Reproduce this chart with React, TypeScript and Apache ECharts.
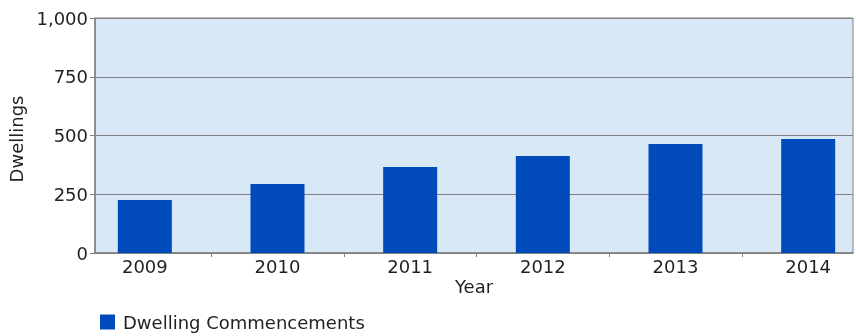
import React, { useEffect, useRef } from "react";
import * as echarts from "echarts";

const years = ["2009", "2010", "2011", "2012", "2013", "2014"];
const commencements = [226, 294, 366, 413, 464, 485];
const yTicks = { min: 0, max: 1000, interval: 250 };
const seriesName = "Dwelling Commencements";
const yAxisTitle = "Dwellings";
const xAxisTitle = "Year";

const FONT = "DejaVu Sans";
const TEXT = "#231F20";
const GRAY = "#808080";

export default function App() {
  const ref = useRef<HTMLDivElement>(null);
  useEffect(() => {
    if (!ref.current) return;
    const chart = echarts.init(ref.current, null, { renderer: "svg" });
    chart.setOption({
      animation: false,
      textStyle: { fontFamily: FONT, color: TEXT },
      legend: {
        left: 95,
        top: 308,
        icon: "rect",
        itemWidth: 15,
        itemHeight: 15,
        data: [seriesName],
        textStyle: { fontFamily: FONT, fontSize: 18, color: TEXT, padding: [0, 0, 0, 3] },
      },
      grid: [
        {
          left: 95,
          right: 3,
          top: 18,
          bottom: 83,
          show: true,
          backgroundColor: "#D9E8F7",
          borderColor: GRAY,
          borderWidth: 1,
          outerBoundsMode: "none",
          containLabel: false,
        },
        {
          left: 78.5,
          width: 796,
          top: 18,
          bottom: 83,
          outerBoundsMode: "none",
          containLabel: false,
        },
      ],
      xAxis: [
        {
          gridIndex: 0,
          type: "category",
          data: [""],
          axisLine: { show: true, lineStyle: { color: GRAY, width: 1.5 } },
          axisTick: { show: false },
          axisLabel: { show: false },
          splitLine: { show: false },
          name: xAxisTitle,
          nameLocation: "middle",
          nameGap: 24,
          nameTextStyle: { fontFamily: FONT, fontSize: 18, color: TEXT },
        },
        {
          gridIndex: 1,
          type: "category",
          data: years,
          axisLine: { show: false },
          axisTick: {
            show: true,
            length: 4,
            lineStyle: { color: GRAY, width: 1 },
            interval: (index: number) => index !== 0,
          },
          axisLabel: { fontFamily: FONT, fontSize: 18, color: TEXT, margin: 4, interval: 0 },
          splitLine: { show: false },
        },
      ],
      yAxis: [
        {
          gridIndex: 0,
          type: "value",
          min: yTicks.min,
          max: yTicks.max,
          interval: yTicks.interval,
          axisLine: { show: true, lineStyle: { color: GRAY, width: 1.5 } },
          axisTick: { show: true, length: 5, lineStyle: { color: GRAY } },
          axisLabel: {
            fontFamily: FONT,
            fontSize: 18,
            color: TEXT,
            margin: 7,
            formatter: (v: number) => v.toLocaleString("en-US"),
          },
          splitLine: { show: true, lineStyle: { color: GRAY, width: 1 } },
          name: yAxisTitle,
          nameLocation: "middle",
          nameGap: 62,
          nameTextStyle: { fontFamily: FONT, fontSize: 18, color: TEXT, padding: [0, 7, 0, 0] },
        },
        {
          gridIndex: 1,
          type: "value",
          min: yTicks.min,
          max: yTicks.max,
          interval: yTicks.interval,
          show: false,
        },
      ],
      series: [
        {
          name: seriesName,
          type: "bar",
          xAxisIndex: 1,
          yAxisIndex: 1,
          data: commencements,
          barWidth: 54,
          itemStyle: { color: "#004BB9" },
        },
      ],
    });
    return () => chart.dispose();
  }, []);
  return (
    <div
      ref={ref}
      style={{ position: "fixed", left: 0, top: 0, width: 856, height: 336 }}
    />
  );
}
